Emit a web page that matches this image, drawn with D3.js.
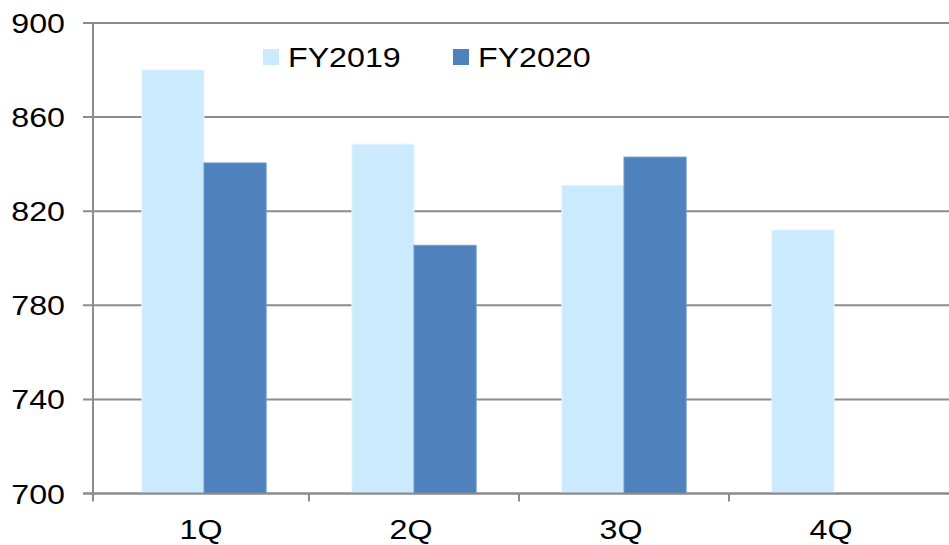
<!DOCTYPE html>
<html>
<head>
<meta charset="utf-8">
<script src="https://cdn.jsdelivr.net/npm/d3@7"></script>
<style>
    body { margin: 0; background: #fff; }
    svg text { font-family: "Liberation Sans", Arial, sans-serif; fill: #000; }
</style>
</head>
<body>
<div id="chart"></div>
<script>
// data
let quarters = ["1Q", "2Q", "3Q", "4Q"];
let series = ["FY2019", "FY2020"];
let fy2019 = [880, 848.5, 831, 812];
let fy2020 = [840.5, 805.5, 843, null];
let yTicks = [700, 740, 780, 820, 860, 900];
let colors = ["#cceafe", "#4f81bd"];

let width = 949, height = 545;
let margin = {top: 23, right: 0, bottom: 52, left: 93};
let stretch = 1.15; // text in the reference is a bit wide

let svg = d3.select("#chart").append("svg")
    .attr("width", width)
    .attr("height", height);

let y = d3.scaleLinear()
    .domain([700, 900])
    .range([height - margin.bottom + 0.5, margin.top]);

let x0 = d3.scaleBand()
    .domain(quarters)
    .range([99, 99 + 4 * 210]);

let x1 = d3.scaleBand()
    .domain(series)
    .range([0, x0.bandwidth()])
    .paddingOuter(0.69);

// gridlines
svg.append("g")
    .selectAll("line")
    .data(yTicks)
    .join("line")
    .attr("x1", margin.left - 10)
    .attr("x2", width)
    .attr("y1", d => y(d))
    .attr("y2", d => y(d))
    .attr("stroke", "#8c8c8c")
    .attr("stroke-width", 2);

// y labels
svg.append("g")
    .selectAll("text")
    .data(yTicks)
    .join("text")
    .attr("transform", d => `translate(65,${y(d)}) scale(${stretch},1)`)
    .attr("dy", "0.36em")
    .attr("text-anchor", "end")
    .style("font-size", "28px")
    .text(d => d);

// bars
let rows = quarters.map((q, i) => ({q: q, vals: [fy2019[i], fy2020[i]]}));

let groups = svg.append("g")
    .selectAll("g")
    .data(rows)
    .join("g")
    .attr("transform", d => `translate(${x0(d.q)},0)`);

groups.selectAll("rect")
    .data(d => d.vals.map((v, j) => ({s: series[j], v: v, j: j})).filter(e => e.v !== null))
    .join("rect")
    .attr("x", d => x1(d.s))
    .attr("width", x1.bandwidth())
    .attr("y", d => y(d.v))
    .attr("height", d => y(700) - y(d.v))
    .attr("fill", d => colors[d.j])
    .attr("stroke", d => d.j === 0 ? "#e4f4ff" : "#6f98cb")
    .attr("stroke-width", 1);

// axes lines
svg.append("line")
    .attr("x1", margin.left).attr("x2", margin.left)
    .attr("y1", y(900)).attr("y2", y(700) + 8)
    .attr("stroke", "#8c8c8c").attr("stroke-width", 2);

svg.append("line")
    .attr("x1", margin.left - 10).attr("x2", width)
    .attr("y1", y(700)).attr("y2", y(700))
    .attr("stroke", "#8c8c8c").attr("stroke-width", 2);

// category ticks
svg.append("g")
    .selectAll("line")
    .data(quarters.slice(1))
    .join("line")
    .attr("x1", d => x0(d)).attr("x2", d => x0(d))
    .attr("y1", y(700)).attr("y2", y(700) + 8)
    .attr("stroke", "#8c8c8c").attr("stroke-width", 2);

// category labels
svg.append("g")
    .selectAll("text")
    .data(quarters)
    .join("text")
    .attr("transform", d => `translate(${x0(d) + x0.bandwidth() / 2 - 3},539) scale(${stretch},1)`)
    .attr("text-anchor", "middle")
    .style("font-size", "28px")
    .text(d => d);

// legend
let legend = svg.append("g")
    .selectAll("g")
    .data(series)
    .join("g")
    .attr("transform", (d, i) => `translate(${263 + i * 190},49)`);

legend.append("rect")
    .attr("width", 16)
    .attr("height", 16)
    .attr("fill", (d, i) => colors[i]);

legend.append("text")
    .attr("transform", `translate(25,18) scale(${stretch},1)`)
    .style("font-size", "28px")
    .text(d => d);
</script>
</body>
</html>
